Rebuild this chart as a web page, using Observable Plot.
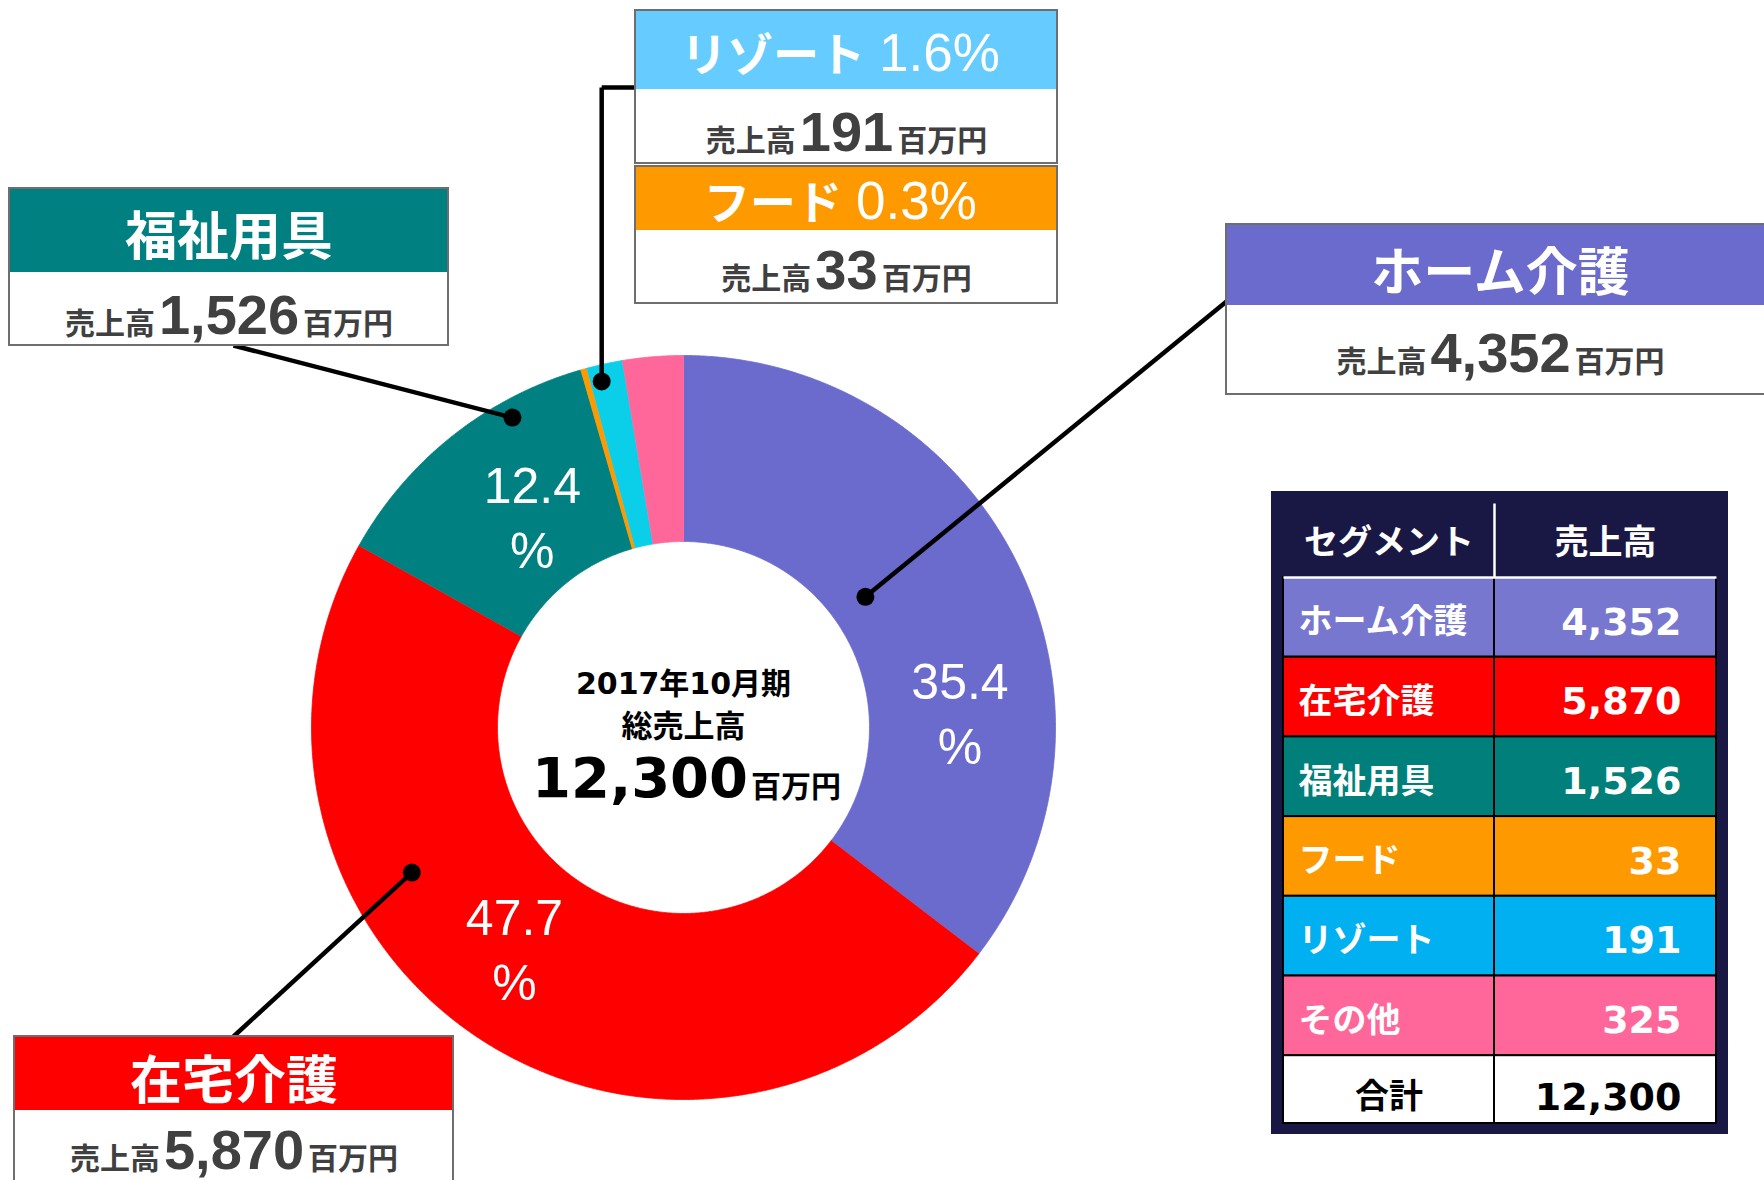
<!DOCTYPE html>
<html><head><meta charset="utf-8">
<script src="https://cdn.jsdelivr.net/npm/d3@7"></script>
<script src="https://cdn.jsdelivr.net/npm/@observablehq/plot@0.6"></script>
<style>
html,body{margin:0;padding:0;background:#fff;overflow:hidden;}
#chart{width:1764px;height:1180px;}
</style></head><body><div id="chart"></div>
<script>
// ---------- data ----------
const segments   = ["ホーム介護", "在宅介護", "福祉用具", "フード", "リゾート", "その他"];
const sales      = [4352, 5870, 1526, 33, 191, 325];           // 百万円
const sharePct   = ["35.4", "47.7", "12.4", "0.3", "1.6", "2.6"];
const ringColors = ["#6B6BCD", "#FF0000", "#008080", "#FF9900", "#0BCFE9", "#FF6699"];
const tableColors= ["#7777D0", "#FF0000", "#007F7B", "#FF9900", "#00B0F0", "#FF6699"];
const boxColors  = ["#6B6BCD", "#FF0000", "#008080", "#FF9900", "#66CCFF"];
const tableHeaders = ["セグメント", "売上高"];
const totalLabel = "合計";
const totalSales = 12300;
const periodLabel = "2017年10月期";
const totalTitle = "総売上高";
const salesPrefix = "売上高";
const unitLabel = "百万円";

// ---------- layout ----------
const W = 1764, H = 1180;
const ring = {cx: 683, cy: 727, r0: 186, r1: 372};
const fmt = d3.format(",");
const LAT = "'Liberation Sans', 'Noto Sans CJK JP', sans-serif";
const WIDE = "'DejaVu Sans', 'Noto Sans CJK JP', sans-serif";
const JP = "'Noto Sans CJK JP', 'Liberation Sans', sans-serif";
const GRAY = "#404040";

// percent labels inside ring (angle° clockwise from top, radius)
const pctLabelPolar = {"ホーム介護": [86.5, 277], "在宅介護": [217.6, 277], "福祉用具": [324.6, 261]};

// callout boxes
const boxes = [
  {seg: "福祉用具", x1: 9, x2: 448, y1: 188, yh: 272, y2: 345, headY: 235, bodyBase: 333, pct: false,
   from: [233, 345], dot: [331.1, 354]},
  {seg: "ホーム介護", x1: 1226, x2: 1774, y1: 224, yh: 305, y2: 394, headY: 271, bodyBase: 371, pct: false,
   from: [1226, 301], dot: [54.3, 224]},
  {seg: "在宅介護", x1: 14, x2: 453, y1: 1036, yh: 1110, y2: 1192, headY: 1079, bodyBase: 1168, pct: false,
   from: [233, 1036], dot: [241.9, 308]},
  {seg: "リゾート", x1: 635, x2: 1057, y1: 10, yh: 89, y2: 163, headBase: 70, bodyBase: 150, pct: true,
   from: [635, 87], dot: [346.7, 355.6], elbow: true},
  {seg: "フード", x1: 635, x2: 1057, y1: 166, yh: 230, y2: 303, headBase: 218, bodyBase: 288, pct: true}
];

// table
const T = {x1: 1271, x2: 1728, y1: 491, y2: 1134, cx1: 1283, cmid: 1494, cx2: 1716,
  headTop: 503, headBot: 577, rowH: 79.7, totalBot: 1123, nameX: 1298, valX: 1681};

// ---------- helpers ----------
const pol = (deg, r) => [ring.cx + r * Math.sin(deg * Math.PI / 180), ring.cy - r * Math.cos(deg * Math.PI / 180)];
const ctx = document.createElement("canvas").getContext("2d");
function measure(p) { ctx.font = `${p.weight} ${p.size}px ${p.family}`; return ctx.measureText(p.text).width; }
function richLine(parts, cx, base, gap = 3) {
  const w = parts.map(measure);
  let x = cx - (d3.sum(w) + gap * (parts.length - 1)) / 2;
  return parts.map((p, i) => { const o = {...p, x, y: base}; x += w[i] + gap; return o; });
}
const pieceMark = p => Plot.text([p], {x: "x", y: "y", text: "text", fontSize: p.size, fontWeight: p.weight,
  fontFamily: p.family, fill: p.fill, textAnchor: "start", lineAnchor: "bottom"});

// ---------- ring geometry from data ----------
const total = d3.sum(sales);
let acc = 0;
const arcs = segments.map((s, i) => {
  const a0 = acc / total * 360; acc += sales[i]; const a1 = acc / total * 360;
  return {seg: s, a0, a1, color: ringColors[i], i};
});
const ringPts = arcs.flatMap(a => {
  const n = Math.max(2, Math.ceil((a.a1 - a.a0) / 0.4) + 1);
  const t = d3.range(n).map(k => a.a0 + (a.a1 - a.a0) * k / (n - 1));
  const outer = t.map(d => { const [x, y] = pol(d, ring.r1); return {seg: a.seg, color: a.color, x, y}; });
  const inner = t.slice().reverse().map(d => { const [x, y] = pol(d, ring.r0); return {seg: a.seg, color: a.color, x, y}; });
  return [...outer, ...inner];
});
const pctLabels = arcs.filter(a => pctLabelPolar[a.seg]).map(a => {
  const [x, y] = pol(...pctLabelPolar[a.seg]);
  return {x, y, text: `${sharePct[a.i]}\n%`};
});

// ---------- callouts ----------
const boxData = boxes.map(b => ({...b, i: segments.indexOf(b.seg)}));
const headerRects = boxData.map(b => ({x1: b.x1, x2: b.x2, y1: b.y1, y2: b.yh, fill: boxColors[b.i]}));
const leaderLinks = [];
const leaderDots = [];
boxData.filter(b => b.dot).forEach(b => {
  const [dx, dy] = pol(...b.dot);
  leaderDots.push({x: dx, y: dy});
  if (b.elbow) {
    leaderLinks.push({x1: b.from[0], y1: b.from[1], x2: dx, y2: b.from[1]});
    leaderLinks.push({x1: dx, y1: b.from[1], x2: dx, y2: dy});
  } else leaderLinks.push({x1: b.from[0], y1: b.from[1], x2: dx, y2: dy});
});
let pieces = [];
const simpleHeads = [];
boxData.forEach(b => {
  const cx = (b.x1 + b.x2) / 2;
  if (b.pct) {
    pieces.push(...richLine([
      {text: b.seg, size: 46, weight: 700, family: JP, fill: "white"},
      {text: `${sharePct[b.i]}%`, size: 53, weight: 400, family: LAT, fill: "white"}], cx - 6, b.headBase, 14));
  } else simpleHeads.push({x: cx, y: b.headY + 3, text: b.seg});
  pieces.push(...richLine([
    {text: salesPrefix, size: 30, weight: 700, family: JP, fill: GRAY},
    {text: fmt(sales[b.i]), size: 56, weight: 700, family: LAT, fill: GRAY},
    {text: unitLabel, size: 30, weight: 700, family: JP, fill: GRAY}], cx, b.bodyBase, 4));
});
// centre text
pieces.push(...richLine([{text: periodLabel, size: 30, weight: 700, family: WIDE, fill: "black"}], ring.cx, 693, 0));
pieces.push(...richLine([{text: totalTitle, size: 31, weight: 700, family: JP, fill: "black"}], ring.cx, 736, 0));
pieces.push(...richLine([
  {text: fmt(totalSales), size: 56, weight: 700, family: WIDE, fill: "black"},
  {text: unitLabel, size: 30, weight: 700, family: JP, fill: "black"}], ring.cx + 3, 796, 3));

// ---------- table ----------
const rows = segments.map((s, i) => ({name: s, value: fmt(sales[i]), fill: tableColors[i],
  y1: T.headBot + i * T.rowH, y2: T.headBot + (i + 1) * T.rowH}));
const cells = rows.flatMap(r => [{x1: T.cx1, x2: T.cmid, y1: r.y1, y2: r.y2, fill: r.fill},
                                 {x1: T.cmid, x2: T.cx2, y1: r.y1, y2: r.y2, fill: r.fill}]);
const totY1 = T.headBot + segments.length * T.rowH;
cells.push({x1: T.cx1, x2: T.cmid, y1: totY1, y2: T.totalBot, fill: "white"},
           {x1: T.cmid, x2: T.cx2, y1: totY1, y2: T.totalBot, fill: "white"});
const totalRow = [{name: totalLabel, value: fmt(totalSales)}];

const chart = Plot.plot({
  width: W, height: H, margin: 0,
  x: {domain: [0, W], range: [0, W], axis: null},
  y: {domain: [0, H], range: [0, H], axis: null},
  color: {type: "identity"},
  style: {background: "white"},
  marks: [
    // ring
    Plot.line(ringPts, {x: "x", y: "y", z: "seg", fill: "color", stroke: "color", strokeWidth: 0.8, curve: "linear"}),
    Plot.text(pctLabels, {x: "x", y: "y", text: "text", fill: "white", fontSize: 50, fontWeight: 400,
      fontFamily: LAT, lineHeight: 1.3}),
    // leaders
    Plot.link(leaderLinks, {x1: "x1", y1: "y1", x2: "x2", y2: "y2", stroke: "black", strokeWidth: 4.5}),
    Plot.dot(leaderDots, {x: "x", y: "y", r: 9, fill: "black"}),
    // boxes
    Plot.rect(boxData, {x1: "x1", x2: "x2", y1: "y1", y2: "y2", fill: "white"}),
    Plot.rect(headerRects, {x1: "x1", x2: "x2", y1: "y1", y2: "y2", fill: "fill"}),
    Plot.rect(boxData, {x1: "x1", x2: "x2", y1: "y1", y2: "y2", fill: "none", stroke: "#6E6E6E", strokeWidth: 2}),
    Plot.text(simpleHeads, {x: "x", y: "y", text: "text", fontSize: 52, fontWeight: 700, fontFamily: JP, fill: "white"}),
    ...pieces.map(pieceMark),
    // table
    Plot.rect([T], {x1: "x1", x2: "x2", y1: "y1", y2: "y2", fill: "#191845"}),
    Plot.rect(cells, {x1: "x1", x2: "x2", y1: "y1", y2: "y2", fill: "fill", stroke: "black", strokeWidth: 2}),
    Plot.link([{x1: T.cmid, y1: T.headTop, x2: T.cmid, y2: T.headBot}, {x1: T.cx1, y1: T.headBot, x2: T.cx2, y2: T.headBot}],
      {x1: "x1", y1: "y1", x2: "x2", y2: "y2", stroke: "white", strokeWidth: 2.5}),
    Plot.text(tableHeaders, {x: (d, i) => i === 0 ? (T.cx1 + T.cmid) / 2 : (T.cmid + T.cx2) / 2,
      y: () => 543, text: d => d, fontSize: 34, fontWeight: 700, fontFamily: JP, fill: "white"}),
    Plot.text(rows, {x: () => T.nameX, y: r => (r.y1 + r.y2) / 2 + 5, text: "name", textAnchor: "start",
      fontSize: 34, fontWeight: 700, fontFamily: JP, fill: "white"}),
    Plot.text(rows, {x: () => T.valX, y: r => (r.y1 + r.y2) / 2 + 5, text: "value", textAnchor: "end",
      fontSize: 38, fontWeight: 700, fontFamily: WIDE, fill: "white"}),
    Plot.text(totalRow, {x: () => (T.cx1 + T.cmid) / 2, y: () => (totY1 + T.totalBot) / 2 + 8,
      text: "name", fontSize: 34, fontWeight: 700, fontFamily: JP, fill: "black"}),
    Plot.text(totalRow, {x: () => T.valX, y: () => (totY1 + T.totalBot) / 2 + 8,
      text: "value", textAnchor: "end", fontSize: 38, fontWeight: 700, fontFamily: WIDE, fill: "black"})
  ]
});
document.getElementById("chart").append(chart);
</script></body></html>
